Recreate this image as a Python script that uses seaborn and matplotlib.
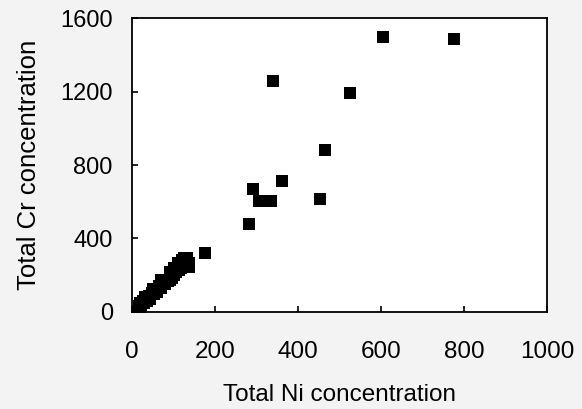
import matplotlib
matplotlib.use("Agg")
import matplotlib.pyplot as plt
import seaborn as sns
import pandas as pd

# Total Ni vs total Cr
ni_conc = [15, 18, 18, 22, 25, 28, 32, 35, 40, 42, 48, 52, 55, 60, 65, 70,
           75, 80, 85, 90, 95, 100, 105, 110, 112, 118, 120, 125, 128, 132,
           137, 137, 30, 50, 70, 90, 100, 175,
           282, 290, 305, 335, 360, 452, 465, 340, 525, 605, 775]
cr_conc = [30, 10, 48, 38, 60, 45, 72, 58, 85, 70, 100, 95, 115, 105, 140, 130,
           155, 150, 165, 175, 185, 200, 215, 268, 225, 240, 280, 292, 262, 295,
           245, 265, 78, 122, 170, 215, 240, 320,
           479, 667, 604, 604, 714, 614, 883, 1256, 1193, 1496, 1489]

df = pd.DataFrame({"Ni": ni_conc, "Cr": cr_conc})

sns.set_style("ticks")
plt.rcParams["font.family"] = ["Liberation Sans", "DejaVu Sans"]
plt.rcParams["text.color"] = "black"
plt.rcParams["axes.labelcolor"] = "black"

fig = plt.figure(figsize=(5.82, 4.09), dpi=100, facecolor="#f3f3f3")
ax = fig.add_axes([0.2273, 0.238, 0.7127, 0.717])
ax.set_facecolor("white")

sns.scatterplot(data=df, x="Ni", y="Cr", marker="s", s=80, color="black",
                edgecolor="black", linewidth=0, ax=ax)

ax.set_xlim(0, 1000)
ax.set_ylim(0, 1600)
ax.set_xticks([0, 200, 400, 600, 800, 1000])
ax.set_yticks([0, 400, 800, 1200, 1600])
ax.tick_params(direction="in", length=4, width=1.2, colors="black",
               top=False, right=False)
ax.tick_params(axis="x", pad=21, labelsize=17.5)
ax.tick_params(axis="y", pad=14, labelsize=17)

for side in ["left", "right", "top", "bottom"]:
    ax.spines[side].set_visible(True)
    ax.spines[side].set_color("black")
    ax.spines[side].set_linewidth(1.3)

ax.set_xlabel("Total Ni concentration", fontsize=17.5, labelpad=15)
ax.set_ylabel("Total Cr concentration", fontsize=18.5, labelpad=14)

fig.savefig("out.png", dpi=100, facecolor=fig.get_facecolor())
